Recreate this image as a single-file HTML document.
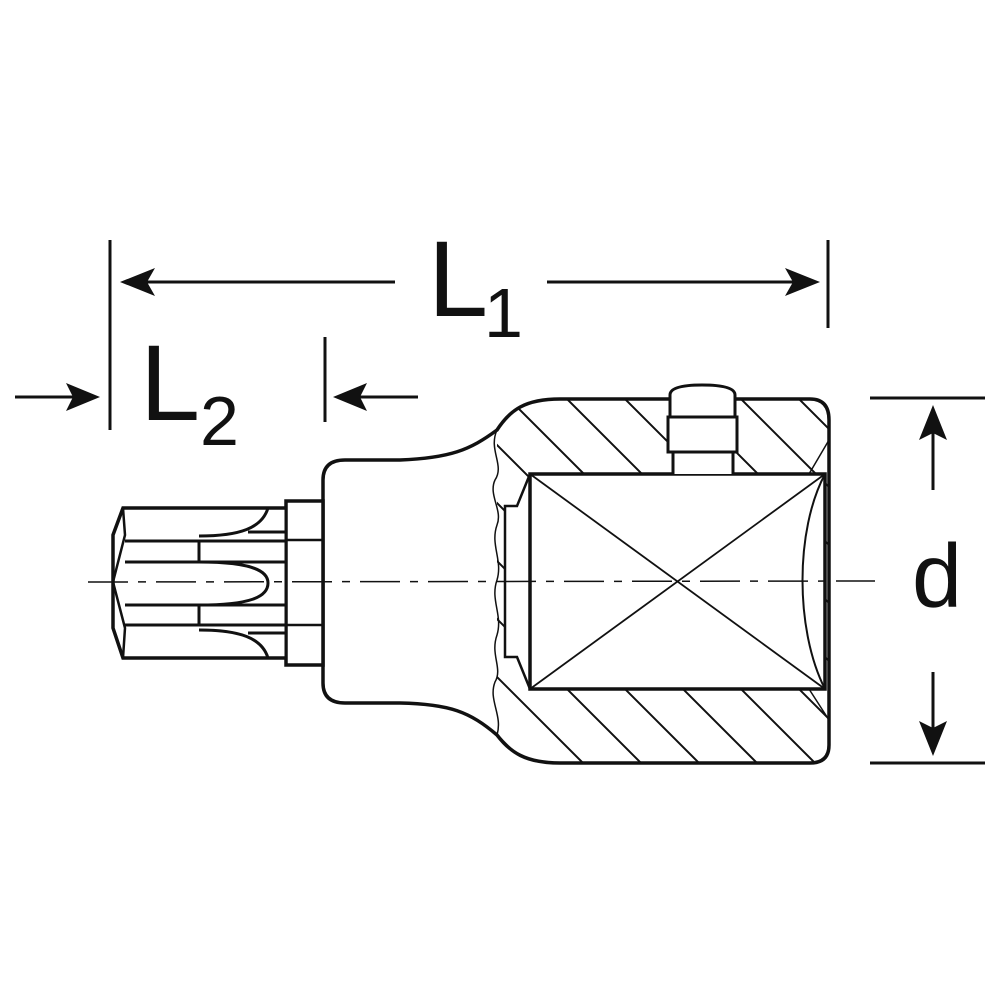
<!DOCTYPE html>
<html><head><style>html,body{margin:0;padding:0;background:#fff}svg{display:block}</style></head>
<body>
<svg width="1000" height="1000" viewBox="0 0 1000 1000" xmlns="http://www.w3.org/2000/svg">
<defs>
<clipPath id="sec">
<path d="M497,430 C510,410 525,399 560,399 L810,399 Q829,399 829,420 L829,745 Q829,763 810,763 L560,763 C525,763 510,752 497,735 Z"/>
</clipPath>
</defs>
<g fill="none" stroke="#111" stroke-linecap="butt">
<g clip-path="url(#sec)" stroke-width="2">
<path d="M84,380 L484,780 M142,380 L542,780 M200,380 L600,780 M258,380 L658,780 M316,380 L716,780 M374,380 L774,780 M432,380 L832,780 M490,380 L890,780 M548,380 L948,780 M606,380 L1006,780 M664,380 L1064,780 M722,380 L1122,780 M780,380 L1180,780 M838,380 L1238,780 M896,380 L1296,780"/>
</g>
<path d="M530,474 L517,506 L505,506 L505,657 L517,657 L530,689 Z" fill="#fff" stroke="none"/>
<line x1="110" y1="240" x2="110" y2="430" stroke-width="3"/>
<line x1="828" y1="240" x2="828" y2="328" stroke-width="3"/>
<line x1="140" y1="282" x2="395" y2="282" stroke-width="3"/>
<line x1="547" y1="282" x2="800" y2="282" stroke-width="3"/>
<path d="M120,282 L155,268 L147,282 L155,296 Z" fill="#111" stroke="none"/>
<path d="M820,282 L785,268 L793,282 L785,296 Z" fill="#111" stroke="none"/>
<line x1="325" y1="337" x2="325" y2="422" stroke-width="3"/>
<line x1="15" y1="397" x2="80" y2="397" stroke-width="3"/>
<path d="M100,397 L66,383 L73,397 L66,411 Z" fill="#111" stroke="none"/>
<line x1="355" y1="397" x2="418" y2="397" stroke-width="3"/>
<path d="M333,397 L367,383 L360,397 L367,411 Z" fill="#111" stroke="none"/>
<line x1="870" y1="398" x2="985" y2="398" stroke-width="3"/>
<line x1="870" y1="763" x2="985" y2="763" stroke-width="3"/>
<line x1="933" y1="430" x2="933" y2="490" stroke-width="3"/>
<path d="M933,405 L919,440 L933,433 L947,440 Z" fill="#111" stroke="none"/>
<line x1="933" y1="672" x2="933" y2="735" stroke-width="3"/>
<path d="M933,756 L919,721 L933,728 L947,721 Z" fill="#111" stroke="none"/>
<path d="M323,480 Q323,460 345,460 L400,460 C450,458 470,450 497,430 C510,410 525,399 560,399 L810,399 Q829,399 829,420 L829,745 Q829,763 810,763 L560,763 C525,763 510,752 497,735 C470,712 450,704 400,703 L345,703 Q323,703 323,683 Z" stroke-width="3.5"/>
<path d="M497,430 C488,450 505,465 495,480 C488,495 503,510 497,525 C490,545 503,560 497,580 C490,600 503,615 497,635 C490,655 503,668 495,682 C488,700 503,715 497,735" stroke-width="1.5"/>
<path d="M530,474 L517,506 L505,506 L505,657 L517,657 L530,689" stroke-width="2.5"/>
<rect x="530" y="474" width="295" height="215" stroke-width="3.5" fill="#fff"/>
<line x1="530" y1="474" x2="825" y2="689" stroke-width="1.8"/>
<line x1="825" y1="474" x2="530" y2="689" stroke-width="1.8"/>
<path d="M825,474 C795,530 795,630 825,689" stroke-width="2"/>
<path d="M809,474 L829,440 M809,689 L829,720" stroke-width="1.5"/>
<rect x="673" y="452" width="60" height="22" fill="#fff" stroke="none"/>
<path d="M670,395 Q670,385 702,385 Q735,385 735,395 L735,417 L670,417 Z" stroke-width="3" fill="#fff"/>
<rect x="668" y="417" width="69" height="35" stroke-width="3" fill="#fff"/>
<path d="M673,452 L673,474 M733,452 L733,474" stroke-width="3"/>
<rect x="286" y="501" width="37" height="164" stroke-width="3.5" fill="#fff"/>
<line x1="286" y1="540" x2="323" y2="540" stroke-width="2.5"/>
<line x1="286" y1="625" x2="323" y2="625" stroke-width="2.5"/>
<path d="M286,508 L123,508 L113,535 L113,628 L123,658 L286,658" stroke-width="3.5" fill="#fff"/>
<path d="M123,508 L125,535 L113,582 L125,628 L123,658" stroke-width="2.5"/>
<line x1="125" y1="541" x2="286" y2="541" stroke-width="3"/>
<line x1="125" y1="562" x2="286" y2="562" stroke-width="3"/>
<line x1="125" y1="605" x2="286" y2="605" stroke-width="3"/>
<line x1="125" y1="625" x2="286" y2="625" stroke-width="3"/>
<line x1="199" y1="541" x2="199" y2="562" stroke-width="3"/>
<line x1="199" y1="605" x2="199" y2="625" stroke-width="3"/>
<path d="M199,562 C250,562 268,570 268,583 C268,597 250,605 199,605" stroke-width="3" fill="#fff"/>
<path d="M199,536 C240,536 262,528 268,508 M248,532 L286,532" stroke-width="3"/>
<path d="M199,630 C240,630 262,638 268,658 M248,633 L286,633" stroke-width="3"/>
<line x1="286" y1="508" x2="286" y2="658" stroke-width="3"/>
<line x1="88" y1="582" x2="875" y2="581" stroke-width="1.5" stroke-dasharray="40,10,8,10"/>
</g>
<g font-family="Liberation Sans, sans-serif" fill="#111">
<text x="428" y="316" font-size="108">L</text>
<text x="484" y="337" font-size="70">1</text>
<text x="140" y="420" font-size="108">L</text>
<text x="200" y="445" font-size="70">2</text>
<text x="912" y="607" font-size="90">d</text>
</g>
</svg>
</body></html>
